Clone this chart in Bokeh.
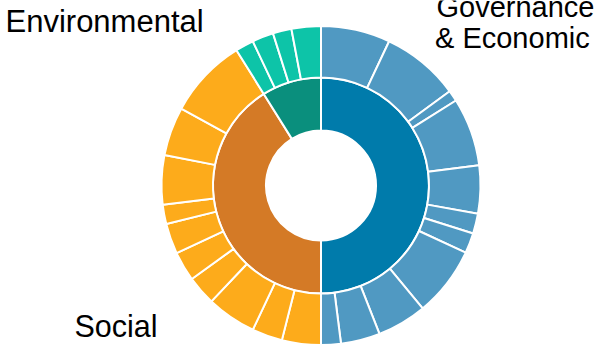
import numpy as np
from bokeh.plotting import figure
from bokeh.models import Range1d, ColumnDataSource
from bokeh.core.properties import value
from bokeh.embed import file_html
from bokeh.resources import INLINE

# ---- data ----
categories = ["Governance & Economic", "Social", "Environmental"]
governance_values = [25.3, 28.5, 4.0, 24.9, 17.5, 7.3, 7.4, 25.5, 18.1, 14.3, 7.2]
social_values = [14.2, 11.1, 18.1, 10.7, 10.8, 11.1, 7.1, 17.9, 17.8, 29.2]
environmental_values = [6.7, 7.8, 6.8, 10.7]
inner_colors = ["#007bab", "#d47a26", "#0a8f7d"]
outer_colors = ["#5099c2", "#fdab1b", "#0dc4a8"]

W, H = 595, 349
CX, CY = 320.5, H - 185.0
R0, R1, R2 = 55.0, 108.0, 159.5

children = [governance_values, social_values, environmental_values]
total = sum(sum(c) for c in children)

inner = dict(s=[], e=[], c=[])
outer = dict(s=[], e=[], c=[])
pos = 0.0
for ci, vals in enumerate(children):
    cat_start = pos
    for v in vals:
        a0 = pos / total * 2 * np.pi
        a1 = (pos + v) / total * 2 * np.pi
        # clockwise from 12 o'clock -> bokeh angles
        outer["s"].append(np.pi / 2 - a1)
        outer["e"].append(np.pi / 2 - a0)
        outer["c"].append(outer_colors[ci])
        pos += v
    a0 = cat_start / total * 2 * np.pi
    a1 = pos / total * 2 * np.pi
    inner["s"].append(np.pi / 2 - a1)
    inner["e"].append(np.pi / 2 - a0)
    inner["c"].append(inner_colors[ci])

p = figure(width=W, height=H, output_backend="svg", toolbar_location=None,
           x_range=Range1d(0, W), y_range=Range1d(0, H), min_border=0)
p.axis.visible = False
p.grid.visible = False
p.outline_line_color = None
p.background_fill_color = "white"

p.annular_wedge(x=CX, y=CY, inner_radius=R0, outer_radius=R1,
                start_angle="s", end_angle="e", fill_color="c",
                line_color="white", line_width=2,
                source=ColumnDataSource(inner))
p.annular_wedge(x=CX, y=CY, inner_radius=R1, outer_radius=R2,
                start_angle="s", end_angle="e", fill_color="c",
                line_color="white", line_width=2,
                source=ColumnDataSource(outer))

SHIFT = 10
big = dict(x=[5, 74], y=[H - 30.7 + SHIFT, H - 335 + SHIFT],
           t=["Environmental", "Social"], s=["31px", "30.5px"])
p.text(x="x", y="y", text="t", text_font_size="s", source=ColumnDataSource(big),
       text_font=value("Liberation Sans"),
       text_color="#000000", text_baseline="alphabetic", text_align="left")

gov = dict(x=[436, 434.5], y=[H - 16.7 + SHIFT, H - 47.7 + SHIFT],
           t=["Governance", "& Economic"])
p.text(x="x", y="y", text="t", source=ColumnDataSource(gov),
       text_font=value("Liberation Sans"), text_font_size="29px",
       text_color="#000000", text_baseline="alphabetic", text_align="left")

open("out.html", "w").write(file_html(p, INLINE))
